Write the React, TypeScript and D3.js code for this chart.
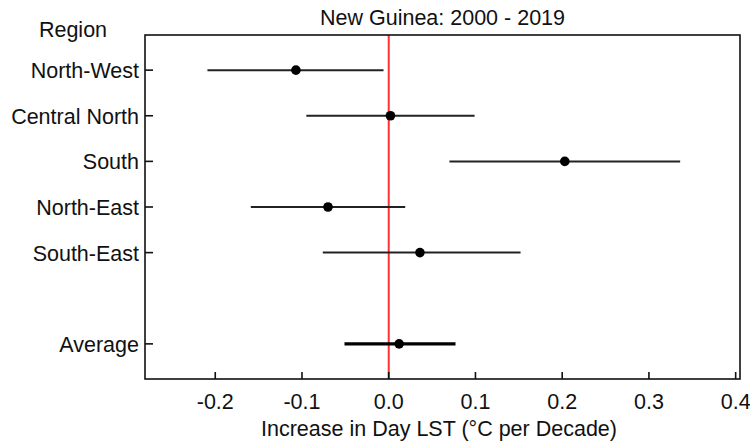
import React from "react";
import * as d3 from "d3";

const regions = ["North-West", "Central North", "South", "North-East", "South-East", "Average"];
const positions = [1, 2, 3, 4, 5, 7];
const estimates = [-0.107, 0.002, 0.203, -0.07, 0.036, 0.012];
const lower = [-0.209, -0.095, 0.07, -0.159, -0.076, -0.051];
const upper = [-0.006, 0.099, 0.336, 0.019, 0.152, 0.077];
const xTicks = [-0.2, -0.1, 0.0, 0.1, 0.2, 0.3, 0.4];

const W = 750;
const H = 444;
const margin = { top: 35, right: 10, bottom: 65, left: 145 };

export default function App() {
  const x = d3
    .scaleLinear()
    .domain([-0.281, 0.405])
    .range([margin.left, W - margin.right]);
  const y = d3
    .scaleLinear()
    .domain([0.23, 7.77])
    .range([margin.top, H - margin.bottom]);

  const font = "Liberation Sans, Arial, sans-serif";
  const fs = 21.5;
  const x0 = margin.left;
  const x1 = W - margin.right;
  const y0 = margin.top;
  const y1 = H - margin.bottom;
  const fmt = (t: number) => t.toFixed(1);

  return (
    <svg
      width={W}
      height={H}
      style={{ position: "absolute", left: 0, top: 0, background: "#fff" }}
      fontFamily={font}
    >
      {/* title */}
      <text x={(x0 + x1) / 2} y={25} fontSize={fs} textAnchor="middle" fill="#111">
        New Guinea: 2000 - 2019
      </text>
      <text x={73} y={37} fontSize={fs} textAnchor="middle" fill="#111">
        Region
      </text>

      {/* zero line */}
      <line x1={x(0)} x2={x(0)} y1={y0} y2={y1} stroke="#ff3333" strokeWidth={2} />

      {/* intervals */}
      {regions.map((r, i) => (
        <g key={r}>
          <line
            x1={x(lower[i])}
            x2={x(upper[i])}
            y1={y(positions[i])}
            y2={y(positions[i])}
            stroke={r === "Average" ? "#000" : "#222"}
            strokeWidth={r === "Average" ? 3.2 : 2}
          />
          <circle cx={x(estimates[i])} cy={y(positions[i])} r={4.8} fill="#000" />
        </g>
      ))}

      {/* frame */}
      <rect x={x0} y={y0} width={x1 - x0} height={y1 - y0} fill="none" stroke="#111" strokeWidth={1.6} />

      {/* y ticks and labels */}
      {regions.map((r, i) => (
        <g key={"yl" + r}>
          <line x1={x0} x2={x0 + 8} y1={y(positions[i])} y2={y(positions[i])} stroke="#111" strokeWidth={1.6} />
          <text x={x0 - 6} y={y(positions[i]) + 8} fontSize={fs} textAnchor="end" fill="#111">
            {r}
          </text>
        </g>
      ))}

      {/* x ticks and labels */}
      {xTicks.map((t) => (
        <g key={"xt" + t}>
          <line x1={x(t)} x2={x(t)} y1={y1} y2={y1 - 7} stroke="#111" strokeWidth={1.6} />
          <text x={x(t)} y={y1 + 30} fontSize={fs} textAnchor="middle" fill="#111">
            {fmt(t)}
          </text>
        </g>
      ))}
      <text x={439} y={436} fontSize={fs} textAnchor="middle" fill="#111">
        Increase in Day LST (°C per Decade)
      </text>
    </svg>
  );
}
